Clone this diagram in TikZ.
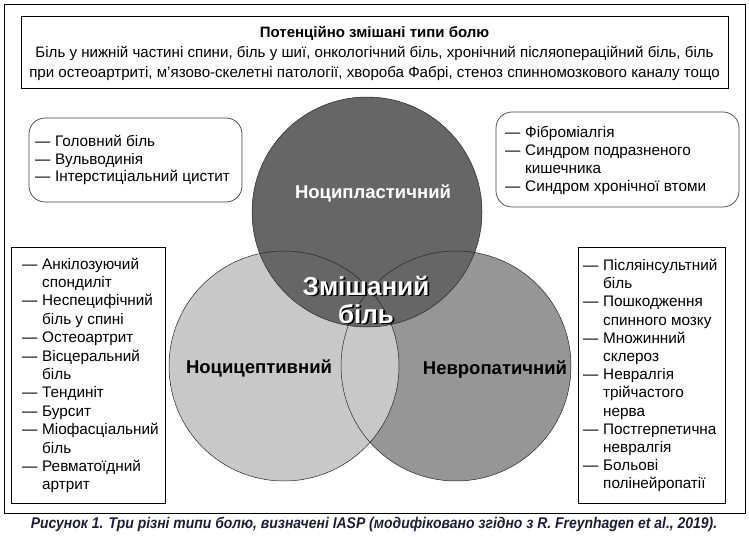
\documentclass[tikz,border=0pt]{standalone}
\usepackage{fontspec}
\setmainfont{Liberation Sans}
\newfontfamily\capfont[FakeStretch=0.9]{Liberation Sans}

\definecolor{plastgray}{HTML}{666666}
\definecolor{cepgray}{HTML}{C8C8C8}
\definecolor{neurogray}{HTML}{969696}
\definecolor{capnavy}{HTML}{1E1E3A}

\newcommand{\li}{\makebox[20pt][l]{—}}
\newcommand{\lc}{\hspace*{20pt}}

\tikzset{
  listframe/.style={draw, line width=0.9pt},
  softframe/.style={draw=black!75, line width=0.7pt, rounded corners=16pt},
  listtext/.style={align=left, anchor=north west, inner sep=0pt,
    font=\fontsize{15.3}{18.4}\selectfont, execute at begin node={\strut}},
  ring/.style={draw=black!85, line width=0.5pt},
  typename/.style={font=\bfseries\fontsize{18.5}{22}\selectfont},
  mixname/.style={font=\bfseries\fontsize{26}{28}\selectfont, align=center}
}

\begin{document}
\begin{tikzpicture}[x=1pt,y=-1pt]
        \useasboundingbox (0,0) rectangle (749,537);
        % Outer frame
        \draw[line width=0.9pt] (4,4) rectangle (745,513);

        % Mixed types on top
        \draw[line width=0.9pt] (21,16) rectangle (728,88);
        \node[font=\bfseries\fontsize{15}{18}\selectfont] (mixtitle) at (374.5,33.5) {Потенційно змішані типи болю};
        \node[align=center, font=\fontsize{15.1}{20}\selectfont] (mixlist) at (374.5,63)
          {Біль у нижній частині спини, біль у шиї, онкологічний біль, хронічний післяопераційний біль, біль\\
           при остеоартриті, м’язово-скелетні патології, хвороба Фабрі, стеноз спинномозкового каналу тощо};

        % Circles: fills first, then outlines
        \fill[neurogray] (456,366) circle (115);
        \fill[cepgray] (284,366) circle (115);
        \fill[plastgray] (367,212) circle (115);
        \draw[ring] (456,366) circle (115);
        \draw[ring] (284,366) circle (115);
        \draw[ring] (367,212) circle (115);

        \node[typename, text=white] (plast) at (373,193) {Ноципластичний};
        \node[typename] (cep) at (259,368) {Ноцицептивний};
        \node[typename] (neuro) at (495,370) {Невропатичний};
        \node[mixname, text=black] (mixshade) at (367.8,301.3) {Змішаний\\біль};
        \node[mixname, text=white] (mix) at (366,299.5) {Змішаний\\біль};

        % Nociplastic examples
        \draw[softframe] (29,118) rectangle (242,202);
        \node[listtext, font=\fontsize{15.3}{17.6}\selectfont] (plastlist) at (35,135)
          {\li Головний біль\\ \li Вульводинія\\ \li Інтерстиціальний цистит};
        \draw[softframe] (496,112) rectangle (739,207);
        \node[listtext, font=\fontsize{15.3}{18}\selectfont] (plastlist2) at (505,126)
          {\li Фіброміалгія\\ \li Синдром подразненого\\ \lc кишечника\\ \li Синдром хронічної втоми};

        % Nociceptive examples
        \draw[listframe] (11,247) rectangle (165,503);
        \node[listtext] (ceplist) at (22,257.5)
          {\li Анкілозуючий\\ \lc спондиліт\\ \li Неспецифічний\\ \lc біль у спині\\ \li Остеоартрит\\
           \li Вісцеральний\\ \lc біль\\ \li Тендиніт\\ \li Бурсит\\ \li Міофасціальний\\ \lc біль\\
           \li Ревматоїдний\\ \lc артрит};

        % Neuropathic examples
        \draw[listframe] (578,247) rectangle (725,503);
        \node[listtext, font=\fontsize{15.3}{18.2}\selectfont] (neurolist) at (583,259)
          {\li Післяінсультний\\ \lc біль\\ \li Пошкодження\\ \lc спинного мозку\\ \li Множинний\\ \lc склероз\\
           \li Невралгія\\ \lc трійчастого\\ \lc нерва\\ \li Постгерпетична\\ \lc невралгія\\
           \li Больові\\ \lc полінейропатії};

        % Caption
        \node[text=capnavy, font=\capfont\bfseries\itshape\fontsize{15.5}{17}\selectfont] (caption) at (374,524)
          {Рисунок 1. Три різні типи болю, визначені IASP (модифіковано згідно з R. Freynhagen et al., 2019).};
    \end{tikzpicture}
\end{document}
